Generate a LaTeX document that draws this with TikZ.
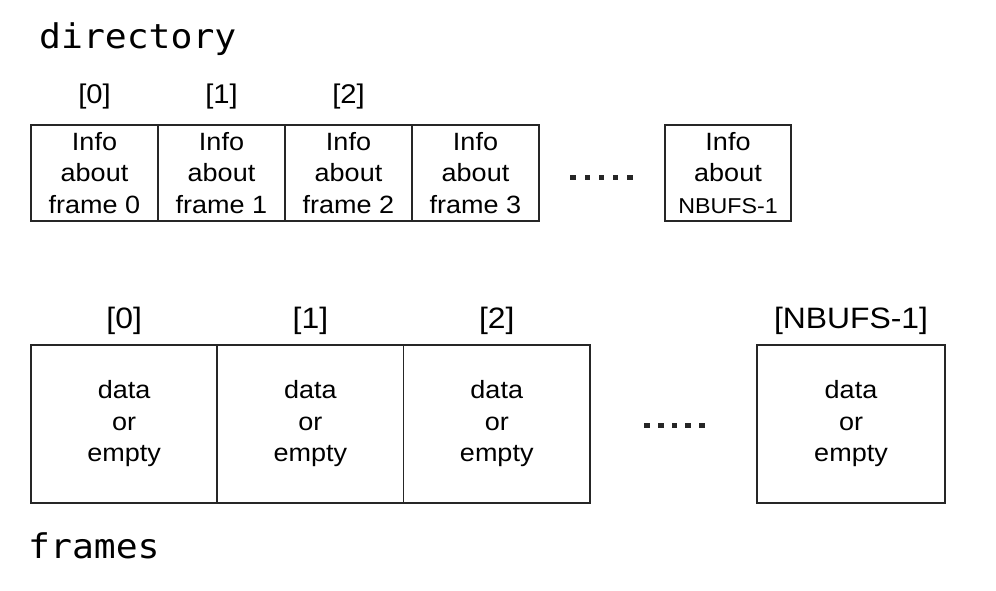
\documentclass[tikz,border=0pt]{standalone}
\usepackage{fontspec}
\setmainfont{Liberation Sans}[FakeStretch=1.08]
\setmonofont{DejaVu Sans Mono}[FakeStretch=1.07]
\usepackage{tikz}
\usetikzlibrary{positioning}

% a row of five square dots
\newcommand{\fivedots}[1]{\rule{5.5pt}{5.5pt}\foreach \i in {1,...,4}{\hspace{#1}\rule{5.5pt}{5.5pt}}}

\begin{document}
\begin{tikzpicture}[
    x=1pt, y=-1pt,
    dirbox/.style={rectangle, draw=black!85, line width=1.7pt, inner sep=0pt, outer sep=0pt,
                   minimum width=127pt, minimum height=96pt, align=center,
                   font=\fontsize{25}{31.5}\selectfont},
    framebox/.style={rectangle, draw=black!85, line width=1.7pt, inner sep=0pt, outer sep=0pt,
                   minimum width=186.3pt, minimum height=158pt, align=center,
                   font=\fontsize{25}{31.5}\selectfont},
    toplabel/.style={inner sep=0pt, font=\fontsize{27}{30}\selectfont},
    botlabel/.style={inner sep=0pt, font=\fontsize{29.5}{32}\selectfont},
    title/.style={inner sep=0pt, anchor=base west, font=\ttfamily\fontsize{34}{38}\selectfont},
    dots/.style={inner sep=0pt, text=black!85}
]
\useasboundingbox (0,0) rectangle (996,590);

% directory
\node[title] (dirtitle) at (39,48) {directory};

\node[dirbox] (d0) at (94.5,173) {Info\\about\\frame 0};
\node[dirbox, right=0pt of d0] (d1) {Info\\about\\frame 1};
\node[dirbox, right=0pt of d1] (d2) {Info\\about\\frame 2};
\node[dirbox, right=0pt of d2] (d3) {Info\\about\\frame 3};
\node[dirbox, minimum width=126pt] (dN) at (728,173)
    {Info\\about\\{\fontsize{21.5}{31.5}\selectfont NBUFS-1}};
\node[dots] (ddots) at (601.5,177.5) {\fivedots{8.7pt}};

\node[toplabel, above=16pt of d0] (dl0) {[0]};
\node[toplabel, above=16pt of d1] (dl1) {[1]};
\node[toplabel, above=16pt of d2] (dl2) {[2]};

% frames
\node[framebox] (f0) at (124.15,424) {data\\or\\empty};
\node[framebox, right=0pt of f0] (f1) {data\\or\\empty};
\node[framebox, right=0pt of f1] (f2) {data\\or\\empty};
\node[framebox, minimum width=188pt] (fN) at (851,424) {data\\or\\empty};
\node[dots] (fdots) at (674.5,425.5) {\fivedots{8.2pt}};

\node[botlabel, above=10pt of f0] (fl0) {[0]};
\node[botlabel, above=10pt of f1] (fl1) {[1]};
\node[botlabel, above=10pt of f2] (fl2) {[2]};
\node[botlabel, above=10pt of fN] (flN) {[NBUFS-1]};

\node[title] (frtitle) at (28,558) {frames};

\end{tikzpicture}
\end{document}
